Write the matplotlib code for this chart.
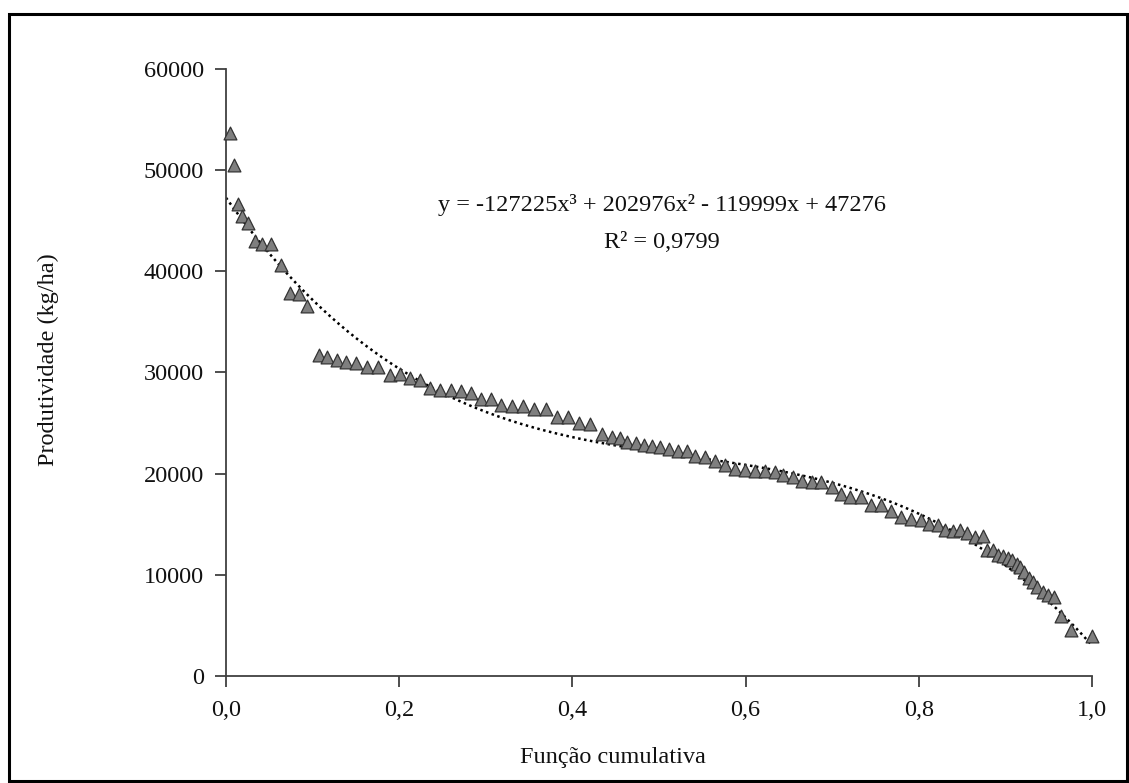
import matplotlib
matplotlib.use("Agg")
import matplotlib.pyplot as plt
import numpy as np
from matplotlib.patches import Rectangle
from matplotlib.ticker import FuncFormatter

plt.rcParams['font.family'] = ['Liberation Serif', 'DejaVu Serif']

cum_x = [0.0046, 0.0092, 0.0142, 0.0188, 0.0251, 0.0335, 0.042, 0.052, 0.063, 0.074,
         0.084, 0.094, 0.107, 0.117, 0.128, 0.139, 0.150, 0.163, 0.176, 0.189,
         0.201, 0.2127, 0.224, 0.236, 0.2466, 0.26, 0.271, 0.283, 0.294, 0.3056,
         0.3176, 0.330, 0.343, 0.356, 0.369, 0.382, 0.3946, 0.4077, 0.4205, 0.4343,
         0.446, 0.4547, 0.4636, 0.4736, 0.4824, 0.492, 0.5017, 0.512, 0.522, 0.532,
         0.542, 0.5534, 0.5645, 0.576, 0.5876, 0.599, 0.6108, 0.6227, 0.6335, 0.6436,
         0.6547, 0.665, 0.6763, 0.6875, 0.6994, 0.7102, 0.7206, 0.733, 0.7445, 0.756,
         0.7676, 0.779, 0.7907, 0.8023, 0.812, 0.8216, 0.830, 0.839, 0.847, 0.856,
         0.865, 0.874, 0.8786, 0.886, 0.8917, 0.8967, 0.9025, 0.908, 0.913, 0.917,
         0.922, 0.927, 0.932, 0.937, 0.943, 0.949, 0.956, 0.964, 0.9757, 1.0]
produtividade = [53700, 50500, 46630, 45470, 44770, 43030, 42730, 42670, 40620, 37820,
                 37720, 36570, 31700, 31500, 31200, 31000, 30900, 30500, 30500, 29800,
                 29850, 29420, 29220, 28490, 28260, 28260, 28130, 27930, 27400, 27400,
                 26750, 26650, 26650, 26410, 26410, 25560, 25560, 24960, 24860, 23970,
                 23610, 23480, 23150, 22990, 22800, 22750, 22650, 22390, 22260, 22260,
                 21730, 21600, 21270, 20840, 20440, 20340, 20250, 20250, 20120, 19820,
                 19680, 19290, 19190, 19190, 18700, 17970, 17650, 17650, 16880, 16880,
                 16320, 15670, 15500, 15400, 15070, 14900, 14480, 14340, 14410, 14140,
                 13750, 13820, 12500, 12500, 11940, 11840, 11670, 11440, 11120, 10780,
                 10300, 9700, 9300, 8800, 8300, 8000, 7800, 5900, 4520, 3930]

# Trend line coefficients as printed on the chart
coef = [-127225, 202976, -119999, 47276]
x_ticks = [0.0, 0.2, 0.4, 0.6, 0.8, 1.0]
y_ticks = [0, 10000, 20000, 30000, 40000, 50000, 60000]

FS = 17.5
W, H = 1129, 783
fig = plt.figure(figsize=(W / 100, H / 100), dpi=100)
ax = fig.add_axes([226 / W, 1 - 676 / H, (1092 - 226) / W, (676 - 69) / H])

xs = np.linspace(0, 1, 300)
ax.plot(xs, np.polyval(coef, xs), color='black', lw=1.8, linestyle=(0, (1, 1.4)), zorder=2)
ax.scatter(cum_x, produtividade, marker='^', s=85, facecolor='#7f7f7f',
           edgecolor='#333333', linewidth=0.9, zorder=3, clip_on=False)

ax.set_xlim(0, 1)
ax.set_ylim(0, 60000)
ax.set_xticks(x_ticks)
ax.set_yticks(y_ticks)
ax.xaxis.set_major_formatter(FuncFormatter(lambda v, p: f"{v:.1f}".replace('.', ',')))
ax.yaxis.set_major_formatter(FuncFormatter(lambda v, p: f"{int(v)}"))
for s in ['top', 'right']:
    ax.spines[s].set_visible(False)
for s in ['left', 'bottom']:
    ax.spines[s].set_color('#404040')
    ax.spines[s].set_linewidth(1.3)
ax.tick_params(axis='both', direction='out', length=8, width=1.3, color='#404040',
               labelsize=FS, labelcolor='#111111')
ax.tick_params(axis='x', pad=9)
ax.tick_params(axis='y', pad=8)

fig.text(613 / W, 1 - 758 / H, 'Função cumulativa', ha='center', va='center',
         fontsize=FS, color='#111111')
fig.text(48 / W, 1 - 360 / H, 'Produtividade (kg/ha)', ha='center', va='center',
         rotation=90, fontsize=FS, color='#111111')
fig.text(662 / W, 1 - 205 / H, 'y = -127225x³ + 202976x² - 119999x + 47276',
         ha='center', va='center', fontsize=FS, color='#111111')
fig.text(662 / W, 1 - 243 / H, 'R² = 0,9799', ha='center', va='center',
         fontsize=FS, color='#111111')

fig.patches.append(Rectangle((9 / W, 1 - 781 / H), (1127 - 9) / W, (781 - 14) / H,
                             transform=fig.transFigure, fill=False,
                             edgecolor='black', linewidth=2.2))

fig.savefig('out.png', dpi=100)
